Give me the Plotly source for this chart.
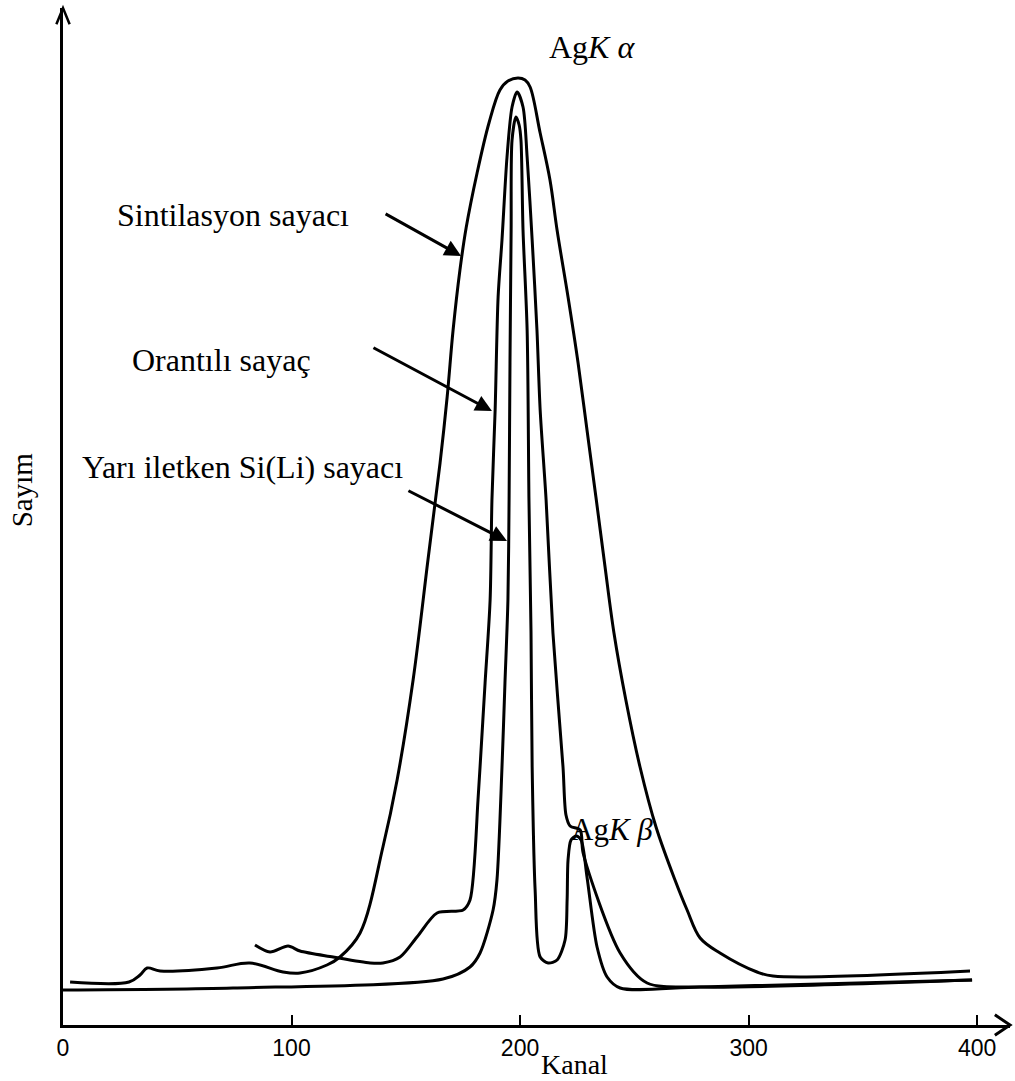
import plotly.graph_objects as go

# Channel / count readings for the three detector spectra (Ag K lines)
scint_ch = [3.1, 28.9, 33.7, 36.8, 42.5, 67.4, 81.8, 96.3, 103.7, 115.5, 121.2, 130.0,
            140.0, 146.2, 153.2, 159.7, 165.0, 168.1, 170.7, 173.7, 176.4, 181.2, 186.4,
            191.2, 194.7, 199.1, 202.2, 204.4, 208.8, 213.1, 216.2, 221.0, 225.4, 229.3,
            233.2, 237.2, 241.1, 246.3, 252.5, 259.5, 267.8, 273.1, 278.8, 287.5, 303.7,
            310.7, 396.9]
scint_cnt = [4.3, 4.3, 5.0, 5.7, 5.4, 5.7, 6.2, 5.3, 5.2, 6.0, 6.8, 9.2,
             17.8, 24.5, 34.5, 46.5, 56.2, 62.8, 69.5, 75.5, 79.7, 85.2, 90.2,
             93.5, 94.4, 94.7, 94.5, 93.8, 89.2, 84.5, 79.5, 72.8, 66.2, 59.5,
             52.8, 45.8, 39.2, 32.5, 25.8, 19.8, 14.5, 11.5, 8.7, 7.2, 5.3,
             4.9, 5.4]

prop_ch = [84.0, 90.6, 98.5, 103.7, 118.2, 134.4, 140.0, 147.5, 154.9, 163.7, 175.1, 178.1,
           181.6, 182.5, 184.7, 186.9, 187.7, 189.1, 190.4, 192.1, 194.3, 196.5, 198.7,
           201.3, 203.1, 205.3, 207.4, 208.8, 211.4, 214.4, 218.8, 220.1, 221.9, 226.3,
           227.6, 243.8, 255.6, 278.8, 397.8]
prop_cnt = [8.0, 7.3, 7.9, 7.4, 6.8, 6.2, 6.2, 6.8, 8.8, 11.2, 11.5, 12.5,
            22.5, 25.8, 34.2, 42.5, 52.5, 61.5, 72.8, 78.5, 86.8, 91.8, 93.3,
            91.8, 86.8, 78.5, 69.5, 61.5, 52.5, 39.2, 25.8, 21.0, 19.9, 19.5,
            17.2, 7.2, 4.2, 3.8, 4.5]

sili_ch = [0.0, 74.4, 166.3, 178.1, 182.5, 188.2, 189.9, 192.1, 193.4, 194.7, 195.2, 195.6,
           196.1, 196.5, 198.2, 199.6, 200.4, 201.3, 203.1, 203.9, 204.8, 205.3, 206.6,
           208.8, 212.3, 216.2, 219.7, 220.6, 221.0, 222.3, 224.5, 226.7, 229.3, 233.7,
           238.1, 243.8, 278.8, 397.8]
sili_cnt = [3.5, 3.7, 4.6, 5.8, 7.2, 11.5, 14.5, 25.8, 34.2, 42.5, 52.5, 66.2,
            79.5, 88.5, 90.8, 90.0, 88.5, 79.5, 69.5, 52.5, 39.2, 25.8, 13.5,
            6.8, 6.2, 6.5, 8.5, 12.5, 16.5, 18.5, 18.9, 18.5, 14.8, 7.8,
            4.8, 3.7, 3.8, 4.5]

x_ticks = [0, 100, 200, 300, 400]
x_tick_text = ["0", "100", "200", "300", "400"]

# Detector labels with their arrow start and arrow tip (channel, count)
labels = ["Sintilasyon sayacı", "Orantılı sayaç", "Yarı iletken Si(Li) sayacı"]
label_pos = [(22.8, 81.0), (29.3, 66.5), (7.4, 55.8)]
arrow_tail = [(140.5, 81.2), (135.2, 67.8), (150.5, 53.5)]
arrow_tip = [(174.2, 76.9), (187.7, 61.4), (194.3, 48.4)]

SERIF = "Liberation Serif, Times New Roman, serif"

fig = go.Figure()
for xs, ys, name, smooth in [(scint_ch, scint_cnt, "Sintilasyon sayacı", 1.0),
                             (prop_ch, prop_cnt, "Orantılı sayaç", 0.8),
                             (sili_ch, sili_cnt, "Yarı iletken Si(Li) sayacı", 0.8)]:
    fig.add_trace(go.Scatter(x=xs, y=ys, mode="lines", name=name, hoverinfo="skip",
                             line=dict(color="black", width=3, shape="spline",
                                       smoothing=smooth)))

annotations = []
for text, (lx, ly) in zip(labels, label_pos):
    annotations.append(dict(x=lx, y=ly, xref="x", yref="y", text=text, showarrow=False,
                            xanchor="left", yanchor="middle",
                            font=dict(family=SERIF, size=32, color="black")))
for (tx, ty), (hx, hy) in zip(arrow_tail, arrow_tip):
    annotations.append(dict(x=hx, y=hy, xref="x", yref="y", ax=tx, ay=ty,
                            axref="x", ayref="y", text="", showarrow=True,
                            arrowhead=2, arrowsize=1.1, arrowwidth=3, arrowcolor="black"))

# Peak labels
annotations.append(dict(x=231.5, y=97.8, xref="x", yref="y", text="Ag<i>K α</i>",
                        showarrow=False, font=dict(family=SERIF, size=32, color="black")))
annotations.append(dict(x=240.3, y=19.6, xref="x", yref="y", text="Ag<i>K β</i>",
                        showarrow=False, font=dict(family=SERIF, size=31, color="black")))
# Axis titles
annotations.append(dict(x=0.54, y=-0.039, xref="paper", yref="paper", text="Kanal",
                        showarrow=False, xanchor="center", yanchor="middle",
                        font=dict(family=SERIF, size=28, color="black")))
annotations.append(dict(x=-0.043, y=0.526, xref="paper", yref="paper", text="Sayım",
                        showarrow=False, textangle=-90, xanchor="center", yanchor="middle",
                        font=dict(family=SERIF, size=29, color="black")))

# Arrow heads closing the axes
shapes = [
    dict(type="path", xref="paper", yref="paper",
         path="M -0.007 0.984 L 0 1.0 L 0.007 0.984", line=dict(color="black", width=2.5)),
    dict(type="path", xref="paper", yref="paper",
         path="M 0.984 0.01 L 1.0 0 L 0.984 -0.01", line=dict(color="black", width=3)),
]

fig.update_layout(
    width=1015, height=1081,
    margin=dict(l=63, r=5, t=8, b=56),
    paper_bgcolor="white", plot_bgcolor="white",
    showlegend=False,
    annotations=annotations,
    shapes=shapes,
    xaxis=dict(range=[0, 414.4], showgrid=False, zeroline=False,
               showline=True, linecolor="black", linewidth=3,
               tickmode="array", tickvals=x_ticks, ticktext=x_tick_text,
               ticks="inside", ticklen=10, tickwidth=2, tickcolor="black",
               tickfont=dict(family="Liberation Sans, Arial, sans-serif",
                             size=23, color="black")),
    yaxis=dict(range=[0, 101.7], showgrid=False, zeroline=False,
               showline=True, linecolor="black", linewidth=2.5,
               showticklabels=False, ticks=""),
)

fig.write_html("out.html")
